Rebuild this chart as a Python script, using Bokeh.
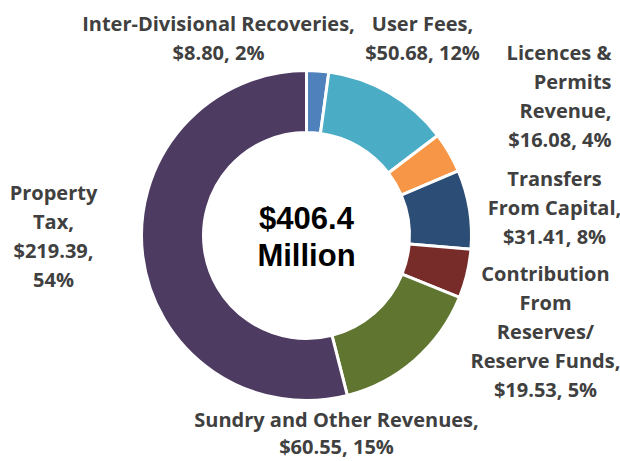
import math
from bokeh.plotting import figure
from bokeh.models import Range1d, ColumnDataSource
from bokeh.core.properties import value
from bokeh.embed import file_html
from bokeh.resources import INLINE

# ---- data ----
categories = ["Inter-Divisional Recoveries", "User Fees", "Licences & Permits Revenue",
              "Transfers From Capital", "Contribution From Reserves/ Reserve Funds",
              "Sundry and Other Revenues", "Property Tax"]
values = [8.80, 50.68, 16.08, 31.41, 19.53, 60.55, 219.39]
colors = ["#4F81BD", "#4BACC6", "#F79646", "#2C4D75", "#772C2A", "#5F7530", "#4D3B62"]
label_names = [
    ["Inter-Divisional Recoveries,"],
    ["User Fees,"],
    ["Licences &", "Permits", "Revenue,"],
    ["Transfers", "From Capital,"],
    ["Contribution", "From", "Reserves/", "Reserve Funds,"],
    ["Sundry and Other Revenues,"],
    ["Property", "Tax,"],
]

def value_lines(i, v, pct):
    if i == 6:
        return [f"${v:.2f},", f"{pct}%"]
    return [f"${v:.2f}, {pct}%"]

total = sum(values)

W, H = 620, 461
p = figure(width=W, height=H, output_backend="svg", toolbar_location=None,
           x_range=Range1d(0, W), y_range=Range1d(0, H),
           min_border=0)
p.axis.visible = False
p.grid.visible = False
p.outline_line_color = None
p.background_fill_color = "white"

cx, cy = 306, H - 235
starts, ends = [], []
cum = 0.0
for v in values:
    a0 = math.pi / 2 - 2 * math.pi * (cum + v) / total
    a1 = math.pi / 2 - 2 * math.pi * cum / total
    starts.append(a0)
    ends.append(a1)
    cum += v
src = ColumnDataSource(dict(start=starts, end=ends, color=colors))
p.annular_wedge(x=cx, y=cy, inner_radius=103, outer_radius=165,
                start_angle="start", end_angle="end", fill_color="color",
                line_color="white", line_width=3, source=src)

# label placement (picture pixel coords): (x, first line y, align, line step)
pos = [
    (218, 23, "center", 29),
    (422, 23, "center", 29),
    (611, 52, "right", 29),
    (554, 178, "center", 29),
    (545, 273, "center", 29),
    (336, 419, "center", 27),
    (53, 192, "center", 29),
]
xs, ys, txt, al = [], [], [], []
for i, v in enumerate(values):
    pct = round(v / total * 100)
    lines = label_names[i] + value_lines(i, v, pct)
    x, y0, a, step = pos[i]
    for k, ln in enumerate(lines):
        xs.append(x)
        ys.append(H - (y0 + k * step))
        txt.append(ln)
        al.append(a)
lsrc = ColumnDataSource(dict(x=xs, y=ys, text=txt, align=al))
p.text(x="x", y="y", text="text", text_align="align", text_baseline="middle",
       text_font=value("Open Sans"), text_font_style="bold", text_font_size="20px",
       text_color="#404040", source=lsrc)

p.text(x=[cx, cx], y=[H - 218, H - 255], text=[f"${total:.1f}", "Million"],
       text_align="center", text_baseline="middle",
       text_font=value("Liberation Sans"), text_font_style="bold",
       text_font_size="31px", text_color="black")

open("out.html", "w").write(file_html(p, INLINE))
